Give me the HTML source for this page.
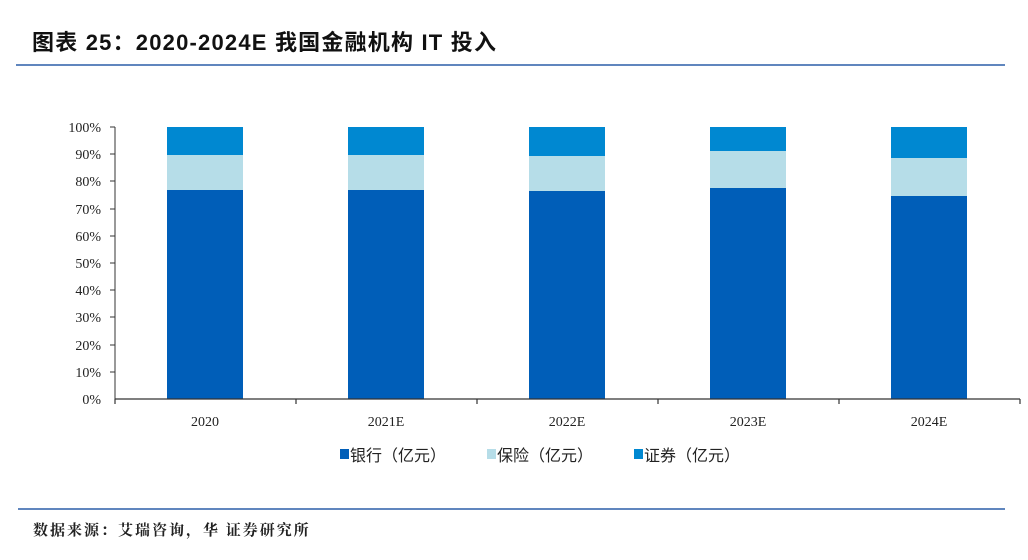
<!DOCTYPE html>
<html><head><meta charset="utf-8"><style>
body{margin:0;width:1028px;height:555px;background:#fff;overflow:hidden;font-family:"Liberation Serif","Noto Serif CJK SC",serif;}
</style></head><body>
<svg width="1028" height="555" xmlns="http://www.w3.org/2000/svg">
<text x="32" y="50" font-family="Liberation Sans,'Noto Sans CJK SC',sans-serif" font-weight="bold" font-size="22" letter-spacing="1.2" fill="#111">图表 25：2020-2024E 我国金融机构 IT 投入</text>
<line x1="16" y1="65" x2="1005" y2="65" stroke="#2b5ea8" stroke-width="1.5"/>
<g font-size="14" fill="#222" text-anchor="end" font-family="Liberation Serif,serif">
<text x="101" y="132">100%</text><text x="101" y="159">90%</text><text x="101" y="186">80%</text><text x="101" y="214">70%</text><text x="101" y="241">60%</text><text x="101" y="268">50%</text><text x="101" y="295">40%</text><text x="101" y="322">30%</text><text x="101" y="350">20%</text><text x="101" y="377">10%</text><text x="101" y="404">0%</text>
</g>
<g stroke="#333" stroke-width="1">
<line x1="115" y1="127" x2="115" y2="399"/>
<line x1="110" y1="127" x2="115" y2="127"/><line x1="110" y1="154" x2="115" y2="154"/><line x1="110" y1="181" x2="115" y2="181"/><line x1="110" y1="209" x2="115" y2="209"/><line x1="110" y1="236" x2="115" y2="236"/><line x1="110" y1="263" x2="115" y2="263"/><line x1="110" y1="290" x2="115" y2="290"/><line x1="110" y1="317" x2="115" y2="317"/><line x1="110" y1="345" x2="115" y2="345"/><line x1="110" y1="372" x2="115" y2="372"/>
</g>
<g>
<rect x="167" y="127" width="76" height="28" fill="#0088d1"/><rect x="167" y="155" width="76" height="35" fill="#b6dde8"/><rect x="167" y="190" width="76" height="209" fill="#005eb8"/>
<rect x="348" y="127" width="76" height="28" fill="#0088d1"/><rect x="348" y="155" width="76" height="35" fill="#b6dde8"/><rect x="348" y="190" width="76" height="209" fill="#005eb8"/>
<rect x="529" y="127" width="76" height="29" fill="#0088d1"/><rect x="529" y="156" width="76" height="35" fill="#b6dde8"/><rect x="529" y="191" width="76" height="208" fill="#005eb8"/>
<rect x="710" y="127" width="76" height="24" fill="#0088d1"/><rect x="710" y="151" width="76" height="37" fill="#b6dde8"/><rect x="710" y="188" width="76" height="211" fill="#005eb8"/>
<rect x="891" y="127" width="76" height="31" fill="#0088d1"/><rect x="891" y="158" width="76" height="38" fill="#b6dde8"/><rect x="891" y="196" width="76" height="203" fill="#005eb8"/>
</g>
<g stroke="#333" stroke-width="1.2">
<line x1="115" y1="399" x2="1020" y2="399"/>
<line x1="115" y1="399" x2="115" y2="404"/><line x1="296" y1="399" x2="296" y2="404"/><line x1="477" y1="399" x2="477" y2="404"/><line x1="658" y1="399" x2="658" y2="404"/><line x1="839" y1="399" x2="839" y2="404"/><line x1="1020" y1="399" x2="1020" y2="404"/>
</g>
<g font-size="14" fill="#222" text-anchor="middle">
<text x="205" y="426">2020</text><text x="386" y="426">2021E</text><text x="567" y="426">2022E</text><text x="748" y="426">2023E</text><text x="929" y="426">2024E</text>
</g>
<g font-size="16" fill="#222" font-family="Liberation Serif,'Noto Sans CJK SC',sans-serif">
<rect x="340" y="449" width="9" height="10" fill="#005eb8"/><text x="350" y="461">银行（亿元）</text>
<rect x="487" y="449" width="9" height="10" fill="#b6dde8"/><text x="497" y="461">保险（亿元）</text>
<rect x="634" y="449" width="9" height="10" fill="#0088d1"/><text x="644" y="461">证券（亿元）</text>
</g>
<line x1="18" y1="509" x2="1005" y2="509" stroke="#2b5ea8" stroke-width="1.5"/>
<text x="33" y="535" font-size="15" font-weight="bold" letter-spacing="2" fill="#222" font-family="'Noto Serif CJK SC',serif">数据来源：艾瑞咨询，华 证券研究所</text>
</svg>
</body></html>
